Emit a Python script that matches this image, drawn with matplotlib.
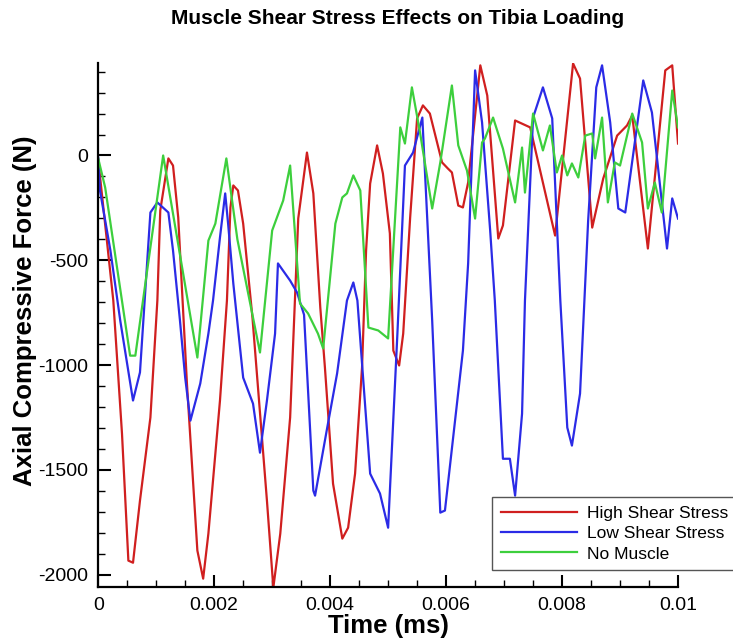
import matplotlib
matplotlib.use("Agg")
import matplotlib.pyplot as plt
from matplotlib.ticker import MultipleLocator

plt.rcParams['font.family'] = ['Liberation Sans', 'DejaVu Sans']
plt.rcParams['axes.unicode_minus'] = False

# values (time in ms, force in N)
t_high = [0, 0.00026, 0.00041, 0.00052, 0.00060, 0.00072, 0.00090, 0.00102, 0.00107, 0.00121,
          0.00129, 0.00138, 0.00153, 0.00171, 0.00181, 0.00190, 0.00210, 0.00222, 0.00228, 0.00233,
          0.00241, 0.00250, 0.00266, 0.00291, 0.00302, 0.00314, 0.00331, 0.00345, 0.00360, 0.00371,
          0.00383, 0.00391, 0.00405, 0.00421, 0.00431, 0.00443, 0.00455, 0.00462, 0.00469, 0.00481,
          0.00491, 0.00503, 0.00509, 0.00519, 0.00526, 0.00538, 0.00550, 0.00560, 0.00572, 0.00593,
          0.00603, 0.00610, 0.00621, 0.00629, 0.00638, 0.00659, 0.00671, 0.00690, 0.00698, 0.00719,
          0.00745, 0.00788, 0.00819, 0.00831, 0.00852, 0.00871, 0.00895, 0.00912, 0.00921, 0.00948,
          0.00978, 0.00990, 0.01000]
f_high = [-20, -692, -1327, -1933, -1943, -1647, -1250, -692, -262, -14,
          -48, -296, -1088, -1885, -2019, -1804, -1169, -692, -248, -143,
          -167, -325, -773, -1647, -2062, -1804, -1250, -300, 14, -181,
          -725, -1012, -1566, -1828, -1776, -1518, -1012, -453, -134, 48,
          -86, -372, -931, -1002, -850, -296, 177, 239, 200, -33,
          -62, -81, -239, -248, -129, 430, 286, -396, -334, 167,
          134, -382, 439, 367, -344, -110, 95, 143, 191, -444,
          406, 430, 57]

t_low = [0, 0.00003, 0.00021, 0.00038, 0.00060, 0.00072, 0.00090, 0.00102, 0.00121, 0.00129,
         0.00141, 0.00150, 0.00159, 0.00176, 0.00190, 0.00198, 0.00210, 0.00219, 0.00224, 0.00233,
         0.00250, 0.00267, 0.00279, 0.00291, 0.00305, 0.00310, 0.00331, 0.00343, 0.00355, 0.00371,
         0.00374, 0.00395, 0.00412, 0.00429, 0.00440, 0.00447, 0.00469, 0.00486, 0.00500, 0.00516,
         0.00529, 0.00543, 0.00559, 0.00576, 0.00590, 0.00598, 0.00629, 0.00638, 0.00645, 0.00650,
         0.00662, 0.00676, 0.00684, 0.00698, 0.00710, 0.00719, 0.00731, 0.00736, 0.00750, 0.00767,
         0.00783, 0.00797, 0.00809, 0.00817, 0.00831, 0.00845, 0.00859, 0.00869, 0.00883, 0.00897,
         0.00909, 0.00940, 0.00955, 0.00981, 0.00990, 0.01000]
f_low = [-10, -167, -453, -788, -1169, -1035, -272, -224, -272, -453,
         -788, -1060, -1265, -1088, -850, -692, -391, -181, -325, -611,
         -1060, -1184, -1418, -1169, -850, -515, -597, -654, -760, -1599,
         -1623, -1298, -1040, -692, -606, -692, -1518, -1613, -1776, -850,
         -48, 14, 181, -788, -1704, -1694, -931, -515, 24, 406,
         158, -358, -692, -1447, -1447, -1623, -1232, -692, 181, 325,
         177, -692, -1298, -1384, -1136, -310, 325, 430, 158, -253,
         -272, 358, 205, -444, -205, -301]

t_none = [0, 0.00012, 0.00055, 0.00064, 0.00112, 0.00171, 0.00190, 0.00202, 0.00221, 0.00240,
          0.00279, 0.00300, 0.00319, 0.00331, 0.00348, 0.00362, 0.00379, 0.00388, 0.00409, 0.00421,
          0.00429, 0.00440, 0.00452, 0.00466, 0.00483, 0.00500, 0.00521, 0.00529, 0.00541, 0.00555,
          0.00576, 0.00590, 0.00610, 0.00621, 0.00636, 0.00650, 0.00662, 0.00667, 0.00681, 0.00698,
          0.00719, 0.00731, 0.00736, 0.00750, 0.00767, 0.00779, 0.00791, 0.00800, 0.00809, 0.00817,
          0.00828, 0.00840, 0.00852, 0.00857, 0.00869, 0.00879, 0.00891, 0.00900, 0.00921, 0.00938,
          0.00948, 0.00960, 0.00972, 0.00990, 0.01000]
f_none = [-14, -153, -955, -955, 0, -964, -406, -325, -14, -400,
          -940, -358, -215, -48, -706, -754, -850, -921, -325, -200,
          -181, -95, -167, -821, -835, -873, 134, 57, 325, 110,
          -253, -33, 334, 48, -72, -301, 62, 81, 181, 33,
          -224, 38, -177, 200, 24, 143, -81, 0, -95, -38,
          -105, 95, 105, -14, 181, -224, -33, -48, 200, 62,
          -253, -129, -272, 310, 134]

x_ticks = [0, 0.002, 0.004, 0.006, 0.008, 0.01]
x_labels = ['0', '0.002', '0.004', '0.006', '0.008', '0.01']
y_ticks = [-2000, -1500, -1000, -500, 0]

fig = plt.figure(figsize=(7.33, 6.39), dpi=100)
ax = fig.add_axes([0.134, 0.081, 0.791, 0.820])

ax.plot(t_high, f_high, color='#d01f1f', lw=1.6, label='High Shear Stress')
ax.plot(t_low, f_low, color='#2b2be6', lw=1.6, label='Low Shear Stress')
ax.plot(t_none, f_none, color='#3dcf3d', lw=1.6, label='No Muscle')

ax.set_xlim(0, 0.01)
ax.set_ylim(-2060, 440)
ax.set_xticks(x_ticks)
ax.set_xticklabels(x_labels)
ax.set_yticks(y_ticks)
ax.set_yticklabels([str(v) for v in y_ticks])
ax.xaxis.set_minor_locator(MultipleLocator(0.0005))
ax.yaxis.set_minor_locator(MultipleLocator(100))

for s in ['top', 'right']:
    ax.spines[s].set_visible(False)
for s in ['left', 'bottom']:
    ax.spines[s].set_linewidth(1.6)

ax.tick_params(which='major', direction='in', length=9, width=1.5, labelsize=14, pad=7)
ax.tick_params(which='minor', direction='in', length=5, width=1.0)

ax.set_xlabel('Time (ms)', fontsize=18.5, fontweight='bold', va='center')
ax.xaxis.set_label_coords(0.5, (587 - 626) / 524)
ax.set_ylabel('Axial Compressive Force (N)', fontsize=18.5, fontweight='bold', va='center')
ax.yaxis.set_label_coords((25 - 98) / 580, 0.5 - (310 - 325) / 524)
fig.text(0.542, 1 - 18 / 639, 'Muscle Shear Stress Effects on Tibia Loading',
         ha='center', va='center', fontsize=15, fontweight='bold')

leg = ax.legend(loc='upper left', bbox_to_anchor=(492 / 733, 1 - 497 / 639),
                bbox_transform=fig.transFigure, borderaxespad=0, fontsize=12.5,
                fancybox=False, framealpha=1, edgecolor='#555555',
                handlelength=4.4, handletextpad=0.6, labelspacing=0.3, borderpad=0.5)
leg.get_frame().set_linewidth(1.0)

fig.savefig('out.png', dpi=100)
